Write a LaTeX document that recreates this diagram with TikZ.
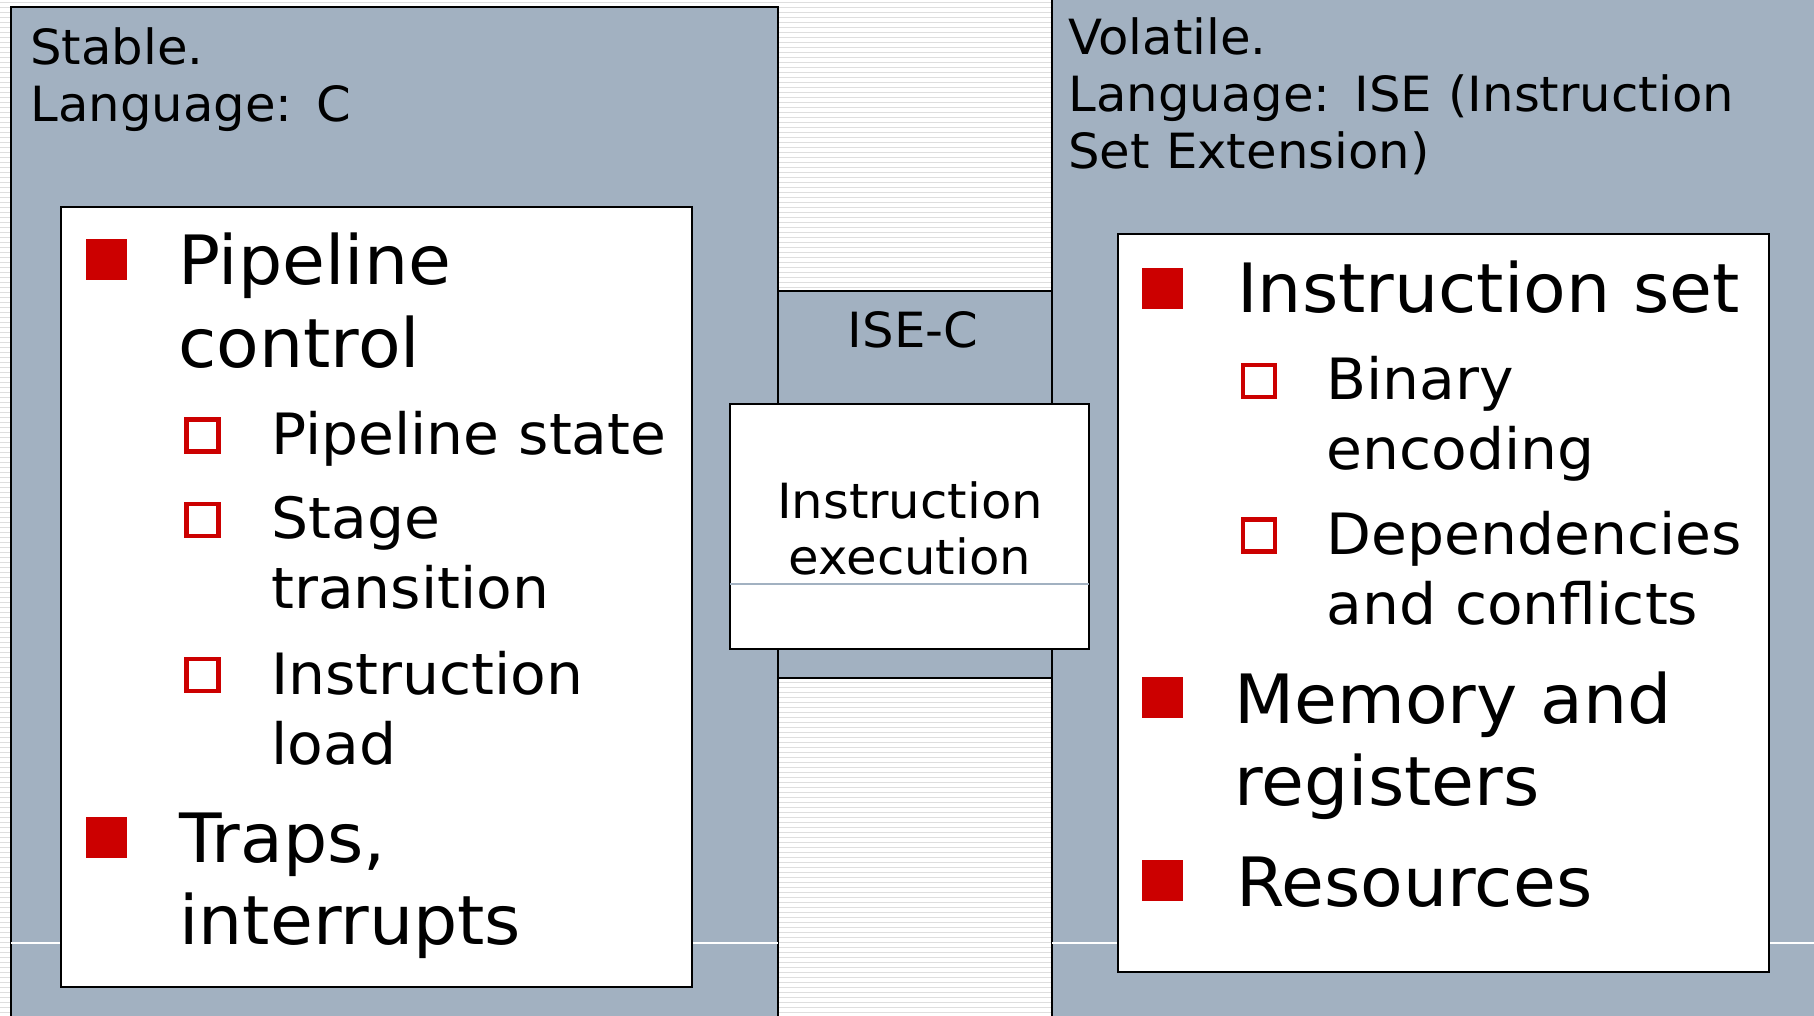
\documentclass[tikz,border=0pt]{standalone}
\usepackage{fontspec}
\setmainfont[FakeStretch=1.025]{DejaVu Sans}
\usepackage{tikz}
\usetikzlibrary{positioning}

\definecolor{panelgray}{RGB}{162,177,193}
\definecolor{bulletred}{RGB}{204,0,0}

\begin{document}
\begin{tikzpicture}[
    x=0.02cm, y=-0.02cm,
    panel/.style={draw=black, line width=1.2pt, fill=panelgray},
    listbox/.style={draw=black, line width=1.2pt, fill=white},
    stripe/.style={draw=black!13, line width=0.5pt},
    head/.style={anchor=base west, inner sep=0, text width=14cm, align=left, font=\fontsize{27.6}{32.4}\selectfont},
    topitem/.style={anchor=base west, inner sep=0, text width=12cm, align=left, font=\fontsize{38.7}{46.9}\selectfont},
    subitem/.style={anchor=base west, inner sep=0, text width=10cm, align=left, font=\fontsize{32.4}{40.4}\selectfont},
    fullbullet/.style={rectangle, fill=bulletred, minimum size=0.82cm, inner sep=0},
    openbullet/.style={rectangle, draw=bulletred, line width=2.8pt, minimum size=0.64cm, inner sep=0}
]
\useasboundingbox (0,0) rectangle (1814,1016);
\clip (0,0) rectangle (1814,1016);

% striped slide background
\fill[white] (0,0) rectangle (1814,1016);
\foreach \sy in {2,7,...,1016}
    \draw[stripe] (0,\sy) -- (1814,\sy);

% the two side panels and the ISE-C column
\draw[panel] (11,7) rectangle (778,1030);
\draw[panel] (1052,-10) rectangle (1830,1030);
\draw[panel] (778,291) rectangle (1052,678);
\draw[white, line width=0.6pt] (11,943) -- (778,943);
\draw[white, line width=0.6pt] (1052,943) -- (1814,943);

% headings
\node[head] (stablehead) at (30,65) {Stable.\\Language: C};
\node[head] (volhead) at (1068,55) {Volatile.\\Language: ISE (Instruction\\Set Extension)};
\node[head, anchor=base, text width=5cm, align=center] (isec) at (913,348) {ISE-C};

% middle box
\draw[listbox] (730,404) rectangle (1089,649);
\draw[panelgray, line width=0.6pt] (730,584) -- (1089,584);
\node[head, anchor=base, text width=6.5cm, align=center] (instrexec) at (910,518) {Instruction\\execution};

% left list
\draw[listbox] (61,207) rectangle (692,987);
\node[fullbullet] (b-pipectl) at (106.5,259.5) {};
\node[topitem] (pipectl) at (178,285) {Pipeline\\control};
\node[openbullet] (b-pipestate) at (202.5,435.5) {};
\node[subitem] (pipestate) at (271,455) {Pipeline state};
\node[openbullet] (b-stagetr) at (202.5,520) {};
\node[subitem] (stagetr) at (271,538) {Stage\\transition};
\node[openbullet] (b-instrload) at (202.5,675) {};
\node[subitem] (instrload) at (271,694) {Instruction\\load};
\node[fullbullet] (b-traps) at (106.5,837.5) {};
\node[topitem] (traps) at (179,862) {Traps,\\interrupts};

% right list
\draw[listbox] (1118,234) rectangle (1769,972);
\node[fullbullet] (b-instrset) at (1162.5,288.5) {};
\node[topitem] (instrset) at (1237,313) {Instruction set};
\node[openbullet] (b-binenc) at (1259,381) {};
\node[subitem] (binenc) at (1326,399) {Binary\\encoding};
\node[openbullet] (b-depconf) at (1259,535.5) {};
\node[subitem] (depconf) at (1326,554) {Dependencies\\and conflicts};
\node[fullbullet] (b-memreg) at (1162.5,697.5) {};
\node[topitem] (memreg) at (1234,723) {Memory and\\registers};
\node[fullbullet] (b-resources) at (1162.5,880.5) {};
\node[topitem] (resources) at (1236,906) {Resources};
\end{tikzpicture}
\end{document}
